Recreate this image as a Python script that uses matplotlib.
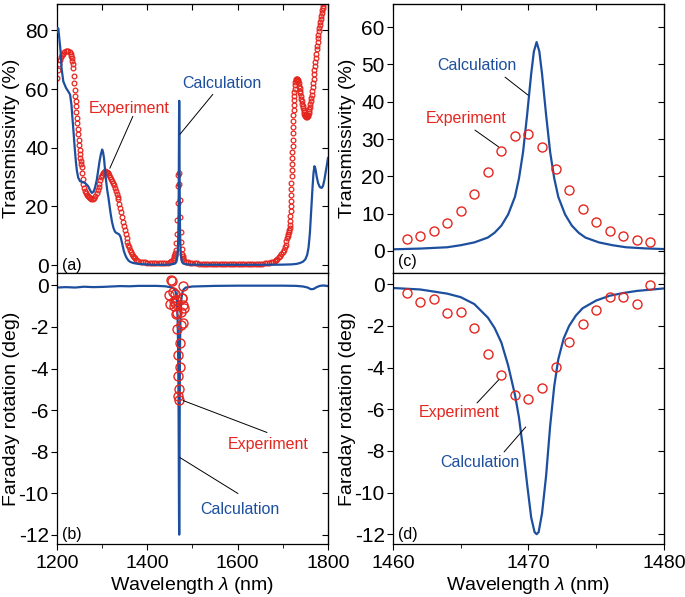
import matplotlib
matplotlib.use("Agg")
from matplotlib import pyplot as plt, ticker

plt.rcParams['font.family'] = ['Liberation Sans', 'DejaVu Sans']
plt.rcParams['mathtext.fontset'] = 'custom'
plt.rcParams['mathtext.rm'] = 'Liberation Sans'
plt.rcParams['mathtext.it'] = 'Liberation Sans:italic'
plt.rcParams['axes.unicode_minus'] = False

BLUE = "#1d4f9f"
RED = "#e5261f"

# ---- zoomed data (panels c, d), 1 nm steps of the measurement ----
exp_zoom_wl = [1461, 1462, 1463, 1464, 1465, 1466, 1467, 1468, 1469, 1470,
               1471, 1472, 1473, 1474, 1475, 1476, 1477, 1478, 1479]
exp_zoom_T = [3.3, 4.0, 5.3, 7.4, 10.6, 15.4, 21.1, 26.8, 30.8, 31.25,
              27.8, 22.1, 16.3, 11.25, 7.8, 5.4, 3.9, 3.0, 2.3]
exp_zoom_F = [-0.43, -0.86, -0.70, -1.36, -1.33, -2.11, -3.36, -4.37, -5.33, -5.50,
              -5.0, -3.95, -2.77, -1.89, -1.26, -0.62, -0.62, -0.96, -0.03]

calc_zoom_T_wl = [1460, 1462, 1464, 1465, 1466, 1467, 1467.5, 1468, 1468.5, 1469,
                  1469.3, 1469.6, 1469.9, 1470.2, 1470.4, 1470.6, 1470.8, 1471.0, 1471.3,
                  1471.6, 1471.9, 1472.2, 1472.7, 1473.2, 1473.7, 1474.2, 1475.2, 1476.2,
                  1477.2, 1478.6, 1480]
calc_zoom_T = [0.45, 0.65, 1.0, 1.55, 2.3, 3.6, 4.9, 6.8, 9.8, 14.5,
               19.5, 26.5, 36.5, 47.5, 53.5, 56.0, 53.5, 47.5, 36.5,
               26.5, 19.5, 14.5, 9.8, 6.8, 4.9, 3.6, 2.3, 1.55,
               1.0, 0.7, 0.52]

calc_zoom_F_wl = [1460, 1462, 1464, 1465, 1466, 1467, 1467.5, 1468, 1468.5, 1469,
                  1469.3, 1469.6, 1469.9, 1470.2, 1470.45, 1470.6, 1470.75, 1471.0, 1471.3,
                  1471.6, 1471.9, 1472.2, 1472.6, 1473.0, 1473.5, 1474, 1475, 1476,
                  1477, 1478, 1480]
calc_zoom_F = [-0.18, -0.25, -0.45, -0.62, -0.95, -1.6, -2.1, -2.8, -3.9, -5.3,
               -6.4, -7.9, -9.6, -11.2, -11.9, -12.0, -11.9, -11.0, -9.2,
               -6.8, -4.9, -3.6, -2.6, -2.0, -1.5, -1.15, -0.78, -0.55,
               -0.42, -0.32, -0.2]

# ---- wide-range transmissivity (panel a) ----
exp_a_left_wl = [1200, 1202, 1204, 1206, 1208, 1210, 1213, 1216, 1219, 1222, 1225, 1228, 1230,
                 1232, 1233, 1234, 1235, 1236, 1237, 1238, 1239, 1240, 1241, 1242, 1243, 1244,
                 1245, 1246, 1247, 1248, 1249, 1250, 1251, 1252, 1253, 1254, 1255, 1256, 1257,
                 1258, 1260, 1262, 1264, 1266, 1268, 1270, 1273, 1276, 1279, 1282, 1285, 1288,
                 1290, 1292, 1294, 1296, 1298, 1300, 1302, 1304, 1306, 1308, 1310, 1312, 1314,
                 1316, 1318, 1320, 1322, 1324, 1326, 1328, 1330, 1332, 1334, 1336, 1338, 1340,
                 1342, 1344, 1346, 1348, 1350, 1352, 1354, 1356, 1358, 1360, 1362, 1364, 1366,
                 1368, 1370, 1373, 1376, 1380, 1385, 1390, 1395, 1400, 1405, 1410, 1415, 1420,
                 1425, 1430, 1435, 1440, 1445, 1450, 1453, 1456, 1458, 1460]
exp_a_left_T = [63.8, 66.5, 68.5, 69.8, 70.8, 71.5, 72.1, 72.5, 72.9, 73.1, 73.1, 72.6, 72.0,
                71.2, 70.5, 69.6, 68.5, 67.2, 64.5, 62.0, 59.8, 57.8, 56.0, 54.2, 52.2, 50.3,
                48.3, 46.4, 44.6, 42.8, 41.0, 39.4, 37.9, 36.6, 35.4, 34.6, 33.6, 31.5, 29.5,
                27.8, 26.2, 25.3, 24.6, 24.0, 23.5, 23.1, 22.7, 22.4, 22.5, 23.0, 23.7, 24.6,
                25.5, 26.6, 27.8, 29.0, 30.0, 30.8, 31.4, 31.8, 32.0, 31.9, 31.7, 31.5, 31.3,
                30.6, 29.9, 29.2, 28.6, 27.9, 27.2, 26.3, 25.3, 24.3, 23.3, 22.4, 20.9, 19.4,
                18.0, 16.4, 14.8, 13.2, 11.9, 10.5, 9.2, 8.0, 6.9, 6.1, 5.3, 4.5, 3.8,
                3.2, 2.8, 2.3, 1.9, 1.5, 1.2, 1.0, 0.9, 0.8, 0.7, 0.7, 0.6, 0.6,
                0.6, 0.6, 0.6, 0.7, 0.8, 1.0, 1.3, 1.8, 2.4, 3.0]

exp_a_right_wl = [1480, 1482, 1485, 1490, 1495, 1500, 1505, 1510, 1515, 1520, 1525, 1530, 1535,
                  1540, 1545, 1550, 1555, 1560, 1565, 1570, 1575, 1580, 1585, 1590, 1595, 1600,
                  1605, 1610, 1615, 1620, 1625, 1630, 1635, 1640, 1645, 1650, 1655, 1660, 1665,
                  1670, 1674, 1678, 1682, 1685, 1688, 1691, 1694, 1697, 1700, 1702, 1704, 1706,
                  1708, 1710, 1711, 1712, 1713, 1714, 1715, 1716, 1716.4, 1716.8, 1717.2,
                  1717.6, 1718, 1718.4, 1718.8, 1719.2, 1719.6, 1720, 1720.4, 1720.8, 1721.2,
                  1721.6, 1722, 1722.4, 1722.8, 1723.2, 1723.6, 1724, 1724.4, 1724.8, 1725.2,
                  1725.6, 1726, 1727, 1728, 1729, 1730, 1731, 1732, 1733, 1734, 1735, 1736,
                  1737, 1738, 1739, 1740, 1741, 1742, 1743, 1744,
                  1745, 1746, 1747, 1748, 1749, 1750, 1751, 1752, 1753, 1754, 1755, 1756, 1757,
                  1758, 1759, 1760, 1761, 1762, 1763, 1764, 1765, 1766, 1767, 1768, 1769, 1770,
                  1771, 1772, 1773, 1774, 1775, 1776, 1777, 1778, 1779, 1780, 1781, 1782, 1783,
                  1784, 1785, 1786, 1787, 1788, 1789, 1790, 1792, 1794, 1796, 1798, 1800]
exp_a_right_T = [2.0, 1.5, 1.1, 0.9, 0.8, 0.7, 0.6, 0.6, 0.5, 0.5, 0.5, 0.5, 0.5,
                 0.4, 0.4, 0.4, 0.4, 0.4, 0.4, 0.4, 0.4, 0.4, 0.4, 0.4, 0.4, 0.4,
                 0.4, 0.4, 0.4, 0.4, 0.4, 0.5, 0.5, 0.5, 0.5, 0.5, 0.5, 0.6, 0.6,
                 0.7, 0.9, 1.1, 1.4, 1.7, 2.1, 2.6, 3.2, 3.9, 4.6, 5.3, 6.0, 7.0,
                 8.1, 9.3, 10.0, 10.7, 11.4, 12.0, 12.7, 13.5, 15.0, 16.6, 18.3,
                 20.1, 22.0, 24.0, 26.0, 28.1, 30.2, 32.3, 34.4, 36.5, 38.6,
                 40.7, 42.8, 44.9, 47.0, 49.0, 51.0, 52.9, 54.7, 56.3, 57.7,
                 58.9, 59.9, 61.4, 62.4, 63.0, 63.4, 63.5, 63.4, 63.1, 62.6, 62.0, 61.2,
                 60.3, 59.4, 58.5, 57.6, 56.7, 55.8, 55.0, 54.2,
                 53.4, 52.7, 52.1, 51.6, 51.2, 50.9, 50.7, 50.6, 50.6, 50.7, 50.9, 51.3, 51.8,
                 52.4, 53.1, 53.9, 54.8, 55.8, 56.9, 58.1, 59.4, 60.7, 62.1, 63.5, 65.0, 66.4,
                 67.9, 69.3, 70.7, 72.1, 73.5, 74.8, 76.1, 77.4, 78.6, 79.8, 80.9, 82.0, 83.0,
                 84.0, 85.0, 85.9, 86.8, 87.6, 88.4, 89.2, 90.6, 91.9, 93.0, 94.0, 95.0]

calc_a_left_wl = [1200, 1202, 1203, 1205, 1208, 1210, 1214, 1220, 1225, 1229, 1232, 1234, 1236,
                  1238, 1240, 1242, 1244, 1247, 1251, 1256, 1262, 1269, 1273, 1277, 1281, 1284,
                  1288, 1291, 1294, 1297, 1300, 1302, 1304, 1306, 1308, 1311, 1314, 1317, 1319,
                  1322, 1325, 1328, 1331, 1335, 1338, 1341, 1343, 1346, 1348, 1351, 1354, 1358,
                  1362, 1369, 1380, 1400, 1420, 1440, 1450, 1455]
calc_a_left_T = [79.5, 80.8, 80.6, 77.5, 72.8, 67.2, 62.6, 60.4, 59.2, 58.1, 54.7, 50.5, 46.7,
                 42.5, 38.5, 35.0, 32.2, 29.8, 28.6, 28.3, 28.0, 26.9, 25.6, 24.6, 25.0, 26.3,
                 29.0, 32.0, 35.2, 37.7, 39.4, 38.5, 36.5, 33.2, 29.7, 25.8, 22.9, 19.5, 17.3,
                 14.6, 12.7, 11.5, 11.0, 10.7, 10.4, 9.5, 8.2, 6.2, 4.8, 3.5, 2.5, 1.6,
                 1.1, 0.7, 0.4, 0.2, 0.1, 0.1, 0.2, 0.3]
calc_a_right_wl = [1485, 1490, 1500, 1550, 1600, 1650, 1700, 1720, 1730, 1738, 1745, 1750, 1754,
                   1757, 1760, 1763, 1766, 1768, 1770, 1772, 1775, 1778, 1782, 1786, 1789, 1792,
                   1795, 1798, 1800]
calc_a_right_T = [0.3, 0.2, 0.15, 0.1, 0.1, 0.1, 0.15, 0.25, 0.4, 0.7, 1.2, 2.0, 3.5,
                  6.0, 11.0, 19.0, 27.0, 31.5, 33.7, 33.0, 30.2, 28.0, 26.6, 26.3, 27.0, 29.0,
                  31.8, 34.5, 36.5]

# ---- wide-range Faraday rotation (panel b) ----
calc_b_left_wl = [1200, 1220, 1240, 1260, 1280, 1300, 1320, 1340, 1360, 1380, 1400, 1420, 1440, 1455]
calc_b_left_F = [-0.1, -0.08, -0.1, -0.06, -0.08, -0.07, -0.05, -0.03, -0.04, -0.02, -0.02, -0.02,
                 -0.04, -0.1]
calc_b_right_wl = [1485, 1500, 1550, 1600, 1650, 1700, 1730, 1745, 1755, 1762, 1768, 1775, 1782,
                   1790, 1800]
calc_b_right_F = [-0.1, -0.05, -0.02, -0.01, -0.01, -0.01, -0.02, -0.05, -0.1, -0.18, -0.17,
                  -0.08, -0.02, 0.0, -0.03]
exp_b_extra_wl = [1448, 1450, 1452, 1454, 1456, 1458, 1460, 1480, 1481]
exp_b_extra_F = [-0.45, -0.9, 0.25, 0.2, -0.3, -0.75, -1.0, -1.8, -1.1]


def style_axis(ax, xmajor, xminor, ymajor, top_panel):
    ax.xaxis.set_major_locator(ticker.MultipleLocator(xmajor))
    ax.xaxis.set_minor_locator(ticker.MultipleLocator(xminor))
    ax.yaxis.set_major_locator(ticker.MultipleLocator(ymajor))
    ax.tick_params(axis='y', which='both', direction='out', length=4, labelsize=15, pad=2)
    ax.tick_params(axis='x', which='both', direction='out', length=4, labelsize=14, pad=4)
    ax.tick_params(axis='x', which='minor', length=3)
    # inward ticks on the right side
    sec_y = ax.secondary_yaxis('right')
    sec_y.yaxis.set_major_locator(ticker.MultipleLocator(ymajor))
    sec_y.tick_params(direction='in', length=4, labelright=False)
    if top_panel:
        ax.tick_params(axis='x', which='both', bottom=False, labelbottom=False)
        sec_x = ax.secondary_xaxis('top')
        sec_x.xaxis.set_major_locator(ticker.MultipleLocator(xminor))
        sec_x.tick_params(direction='in', length=4, labeltop=False)
    else:
        ax.set_xlabel("Wavelength $\\lambda$ (nm)", fontsize=14, labelpad=2)
    for s in ax.spines.values():
        s.set_linewidth(0.9)


def leader(ax, start, end):
    ax.annotate('', xy=end, xytext=start,
                arrowprops=dict(arrowstyle='-', color='black', lw=0.7, shrinkA=0, shrinkB=0))


fig = plt.figure(figsize=(6.85, 5.97), dpi=100)
ax_a = fig.add_axes([0.0832, 0.5427, 0.3956, 0.4506])
ax_b = fig.add_axes([0.0832, 0.0888, 0.3956, 0.4539])
ax_c = fig.add_axes([0.5737, 0.5427, 0.3956, 0.4506])
ax_d = fig.add_axes([0.5737, 0.0888, 0.3956, 0.4539])

ANN = 11.5

# (a)
ax_a.plot(calc_a_left_wl + calc_zoom_T_wl + calc_a_right_wl,
          calc_a_left_T + calc_zoom_T + calc_a_right_T, color=BLUE, lw=1.6, zorder=3)
ax_a.plot(exp_a_left_wl + exp_zoom_wl + exp_a_right_wl,
          exp_a_left_T + exp_zoom_T + exp_a_right_T, linestyle='none', marker='o',
          markersize=3.4, markerfacecolor='none', markeredgecolor=RED, markeredgewidth=0.9,
          zorder=2)
ax_a.set_xlim(1200, 1800)
ax_a.set_ylim(-2.7, 89)
style_axis(ax_a, 200, 100, 20, True)
ax_a.set_ylabel("Transmissivity (%)", fontsize=14)
ax_a.text(1360, 53.5, "Experiment", color=RED, fontsize=ANN, ha='center', va='center')
leader(ax_a, (1368, 50.7), (1317, 33.0))
ax_a.text(1565, 62, "Calculation", color=BLUE, fontsize=ANN, ha='center', va='center')
leader(ax_a, (1545, 58.2), (1472.3, 44.6))
ax_a.text(1211, 0, "(a)", fontsize=ANN, ha='left', va='center')

# (b)
ax_b.plot(calc_b_left_wl + calc_zoom_F_wl + calc_b_right_wl,
          calc_b_left_F + calc_zoom_F + calc_b_right_F, color=BLUE, lw=1.6, zorder=2)
ax_b.plot(exp_b_extra_wl + exp_zoom_wl, exp_b_extra_F + exp_zoom_F, linestyle='none',
          marker='o', markersize=6.5, markerfacecolor='none', markeredgecolor=RED,
          markeredgewidth=1.0, zorder=3)
ax_b.set_xlim(1200, 1800)
ax_b.set_ylim(-12.45, 0.6)
style_axis(ax_b, 200, 100, 2, False)
ax_b.set_ylabel("Faraday rotation (deg)", fontsize=14)
ax_b.text(1667, -7.66, "Experiment", color=RED, fontsize=ANN, ha='center', va='center')
leader(ax_b, (1479, -5.54), (1665, -7.08))
ax_b.text(1605, -10.8, "Calculation", color=BLUE, fontsize=ANN, ha='center', va='center')
leader(ax_b, (1472.3, -8.29), (1600.7, -10.02))
ax_b.text(1211, -12, "(b)", fontsize=ANN, ha='left', va='center')

# (c)
ax_c.plot(calc_zoom_T_wl, calc_zoom_T, color=BLUE, lw=1.6, zorder=2)
ax_c.plot(exp_zoom_wl, exp_zoom_T, linestyle='none', marker='o', markersize=6.5,
          markerfacecolor='none', markeredgecolor=RED, markeredgewidth=1.0, zorder=3)
ax_c.set_xlim(1460, 1480)
ax_c.set_ylim(-5.9, 66.2)
style_axis(ax_c, 10, 5, 10, True)
ax_c.set_ylabel("Transmissivity (%)", fontsize=14)
ax_c.text(1466.2, 49.8, "Calculation", color=BLUE, fontsize=ANN, ha='center', va='center')
leader(ax_c, (1468.27, 46.6), (1469.96, 41.8))
ax_c.text(1465.4, 35.6, "Experiment", color=RED, fontsize=ANN, ha='center', va='center')
leader(ax_c, (1466.05, 32.4), (1467.8, 27.9))
ax_c.text(1460.4, -2.9, "(c)", fontsize=ANN, ha='left', va='center')

# (d)
ax_d.plot(calc_zoom_F_wl, calc_zoom_F, color=BLUE, lw=1.6, zorder=2)
ax_d.plot(exp_zoom_wl, exp_zoom_F, linestyle='none', marker='o', markersize=6.5,
          markerfacecolor='none', markeredgecolor=RED, markeredgewidth=1.0, zorder=3)
ax_d.set_xlim(1460, 1480)
ax_d.set_ylim(-12.47, 0.54)
style_axis(ax_d, 10, 5, 2, False)
ax_d.set_ylabel("Faraday rotation (deg)", fontsize=14)
ax_d.text(1464.9, -6.18, "Experiment", color=RED, fontsize=ANN, ha='center', va='center')
leader(ax_d, (1466.2, -5.70), (1467.8, -4.59))
ax_d.text(1466.4, -8.58, "Calculation", color=BLUE, fontsize=ANN, ha='center', va='center')
leader(ax_d, (1468.2, -8.05), (1469.8, -6.85))
ax_d.text(1460.4, -12, "(d)", fontsize=ANN, ha='left', va='center')

for ax in (ax_a, ax_b, ax_c, ax_d):
    ax.yaxis.set_label_coords(-0.135, 0.5)

fig.savefig("out.png", dpi=100)
